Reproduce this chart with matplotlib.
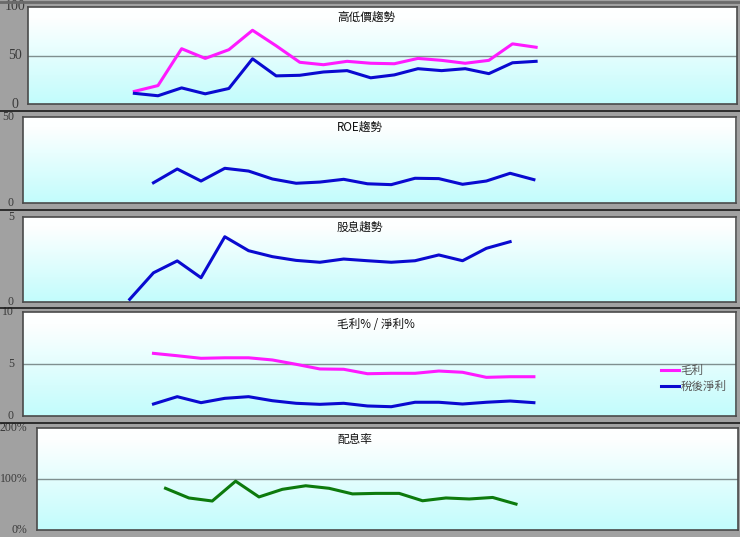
import numpy as np
import matplotlib
matplotlib.use("Agg")
import matplotlib.pyplot as plt
import matplotlib.transforms as mt
from matplotlib.colors import LinearSegmentedColormap
from matplotlib.lines import Line2D

plt.rcParams['font.family'] = ['Noto Sans CJK TC', 'DejaVu Sans']

# ---------------- data ----------------
n_slots = 30

price_start = 4
price_high = [13, 19, 57, 47, 56, 76, 60, 43, 40.5, 44, 42, 41.5, 47, 45, 42, 45, 62, 58.5]
price_low = [11, 8.5, 16.6, 10.5, 16, 46.6, 29, 29.6, 33, 34.4, 27, 30, 36.4, 34.4, 36.4, 31.3, 42.5, 44]

roe_start = 5
roe = [11.6, 19.6, 12.6, 20, 18.4, 13.8, 11.3, 12, 13.6, 11, 10.5, 14.2, 14, 10.7, 12.6, 17.1, 13.4]

div_start = 4
dividend = [0.14, 1.7, 2.4, 1.41, 3.82, 3.0, 2.65, 2.43, 2.32, 2.51, 2.41, 2.32, 2.41, 2.75, 2.41, 3.14, 3.53]

margin_start = 5
gross_margin = [6.03, 5.8, 5.55, 5.6, 5.6, 5.39, 4.97, 4.52, 4.49, 4.06, 4.1, 4.1, 4.32, 4.2, 3.71, 3.77, 3.77]
net_margin = [1.13, 1.84, 1.26, 1.68, 1.84, 1.45, 1.2, 1.1, 1.2, 0.94, 0.87, 1.3, 1.3, 1.13, 1.3, 1.42, 1.26]

payout_start = 5
payout = [82, 63, 57, 96, 65, 80, 87, 82, 71, 72, 72, 57.5, 63, 61, 64, 51]

titles = ['高低價趨勢', 'ROE趨勢', '股息趨勢', '毛利% / 淨利%', '配息率']
legend_labels = ['毛利', '稅後淨利']

ticks1 = [(100, '100'), (50, '50'), (0, '0')]
ticks2 = [(50, '50'), (0, '0')]
ticks3 = [(5, '5'), (0, '0')]
ticks4 = [(10, '10'), (5, '5'), (0, '0')]
ticks5 = [(200, '200%'), (100, '100%'), (0, '0%')]

# ---------------- figure ----------------
W, H = 740, 537
fig = plt.figure(figsize=(W / 100, H / 100), dpi=100)
fig.patch.set_facecolor('#a1a1a1')

cmap = LinearSegmentedColormap.from_list('bg', [(0, '#ffffff'), (0.12, '#fdffff'), (1, '#c2fcfc')])

def make_ax(left, right, top, bottom, ymax):
    ax = fig.add_axes([left / W, 1 - bottom / H, (right - left) / W, (bottom - top) / H])
    ax.set_xlim(-0.5, n_slots - 0.5)
    ax.set_ylim(0, ymax)
    g = np.linspace(0, 1, 256)[:, None]
    ax.imshow(g, cmap=cmap, extent=[-0.5, n_slots - 0.5, 0, ymax], aspect='auto',
              origin='upper', zorder=0, interpolation='bilinear')
    ax.set_xticks([])
    ax.set_yticks([])
    for s in ax.spines.values():
        s.set_color('#4a4a4a')
        s.set_linewidth(1.2)
    return ax

def tick_labels(ax, ticks, xpix, ha='center', size=8.5):
    tr = mt.blended_transform_factory(fig.transFigure, ax.transData)
    for v, lab in ticks:
        ax.text(xpix / W, v, lab, transform=tr, ha=ha, va='center',
                family=['Liberation Serif'], fontsize=size, color='#3a3a3a', clip_on=False)

def title(ax, text, ypix):
    ax.text(337 / W, 1 - ypix / H, text, transform=fig.transFigure, ha='left', va='center',
            fontsize=8.4, color='#111111')

def xs(start, vals):
    return np.arange(start, start + len(vals))

lw = 2.2
pink = '#ff1aff'
blue = '#0a0ad0'
green = '#0d7a0d'
grid_c = '#7f8f8f'

# Panel 1
ax1 = make_ax(28, 737, 7, 104, 100)
ax1.axhline(50, color=grid_c, lw=1, zorder=1)
ax1.plot(xs(price_start, price_high), price_high, color=pink, lw=lw, zorder=3)
ax1.plot(xs(price_start, price_low), price_low, color=blue, lw=lw, zorder=3)
tick_labels(ax1, ticks1, 15, ha='center', size=10)
title(ax1, titles[0], 17)

# Panel 2
ax2 = make_ax(22.7, 736, 116.7, 202.7, 50)
ax2.plot(xs(roe_start, roe), roe, color=blue, lw=lw, zorder=3)
tick_labels(ax2, ticks2, 14, ha='right')
title(ax2, titles[1], 127)

# Panel 3
ax3 = make_ax(22.7, 736, 216.7, 301.7, 5)
ax3.plot(xs(div_start, dividend), dividend, color=blue, lw=lw, zorder=3)
tick_labels(ax3, ticks3, 14, ha='right')
title(ax3, titles[2], 227)

# Panel 4
ax4 = make_ax(22.7, 736, 312.3, 415.7, 10)
ax4.axhline(5, color=grid_c, lw=1, zorder=1)
l1, = ax4.plot(xs(margin_start, gross_margin), gross_margin, color=pink, lw=lw, zorder=3)
l2, = ax4.plot(xs(margin_start, net_margin), net_margin, color=blue, lw=lw, zorder=3)
tick_labels(ax4, ticks4, 14, ha='right')
title(ax4, titles[3], 325)
leg = ax4.legend([l1, l2], legend_labels, loc='upper left',
                 bbox_to_anchor=(655 / W, 1 - 358 / H), bbox_transform=fig.transFigure,
                 frameon=False, handlelength=1.6, handletextpad=0.1, labelspacing=0.25,
                 fontsize=8.3, borderpad=0)
for t in leg.get_texts():
    t.set_color('#555555')

# Panel 5
ax5 = make_ax(37, 738, 428.3, 530, 200)
ax5.axhline(100, color=grid_c, lw=1, zorder=1)
ax5.plot(xs(payout_start, payout), payout, color=green, lw=lw, zorder=3)
tick_labels(ax5, ticks5, 27.5, ha='right', size=8.5)
title(ax5, titles[4], 440)

# separators between stacked panels
for ypix in [110.5, 209.5, 307.5, 422.5]:
    fig.add_artist(Line2D([0, 1], [1 - ypix / H, 1 - ypix / H], transform=fig.transFigure,
                          color='#1a1a1a', lw=1.2))
fig.add_artist(Line2D([0, 1], [1 - 2 / H, 1 - 2 / H], transform=fig.transFigure,
                      color='#6a6a6a', lw=2))

fig.savefig('out.png', dpi=100, facecolor=fig.get_facecolor())
